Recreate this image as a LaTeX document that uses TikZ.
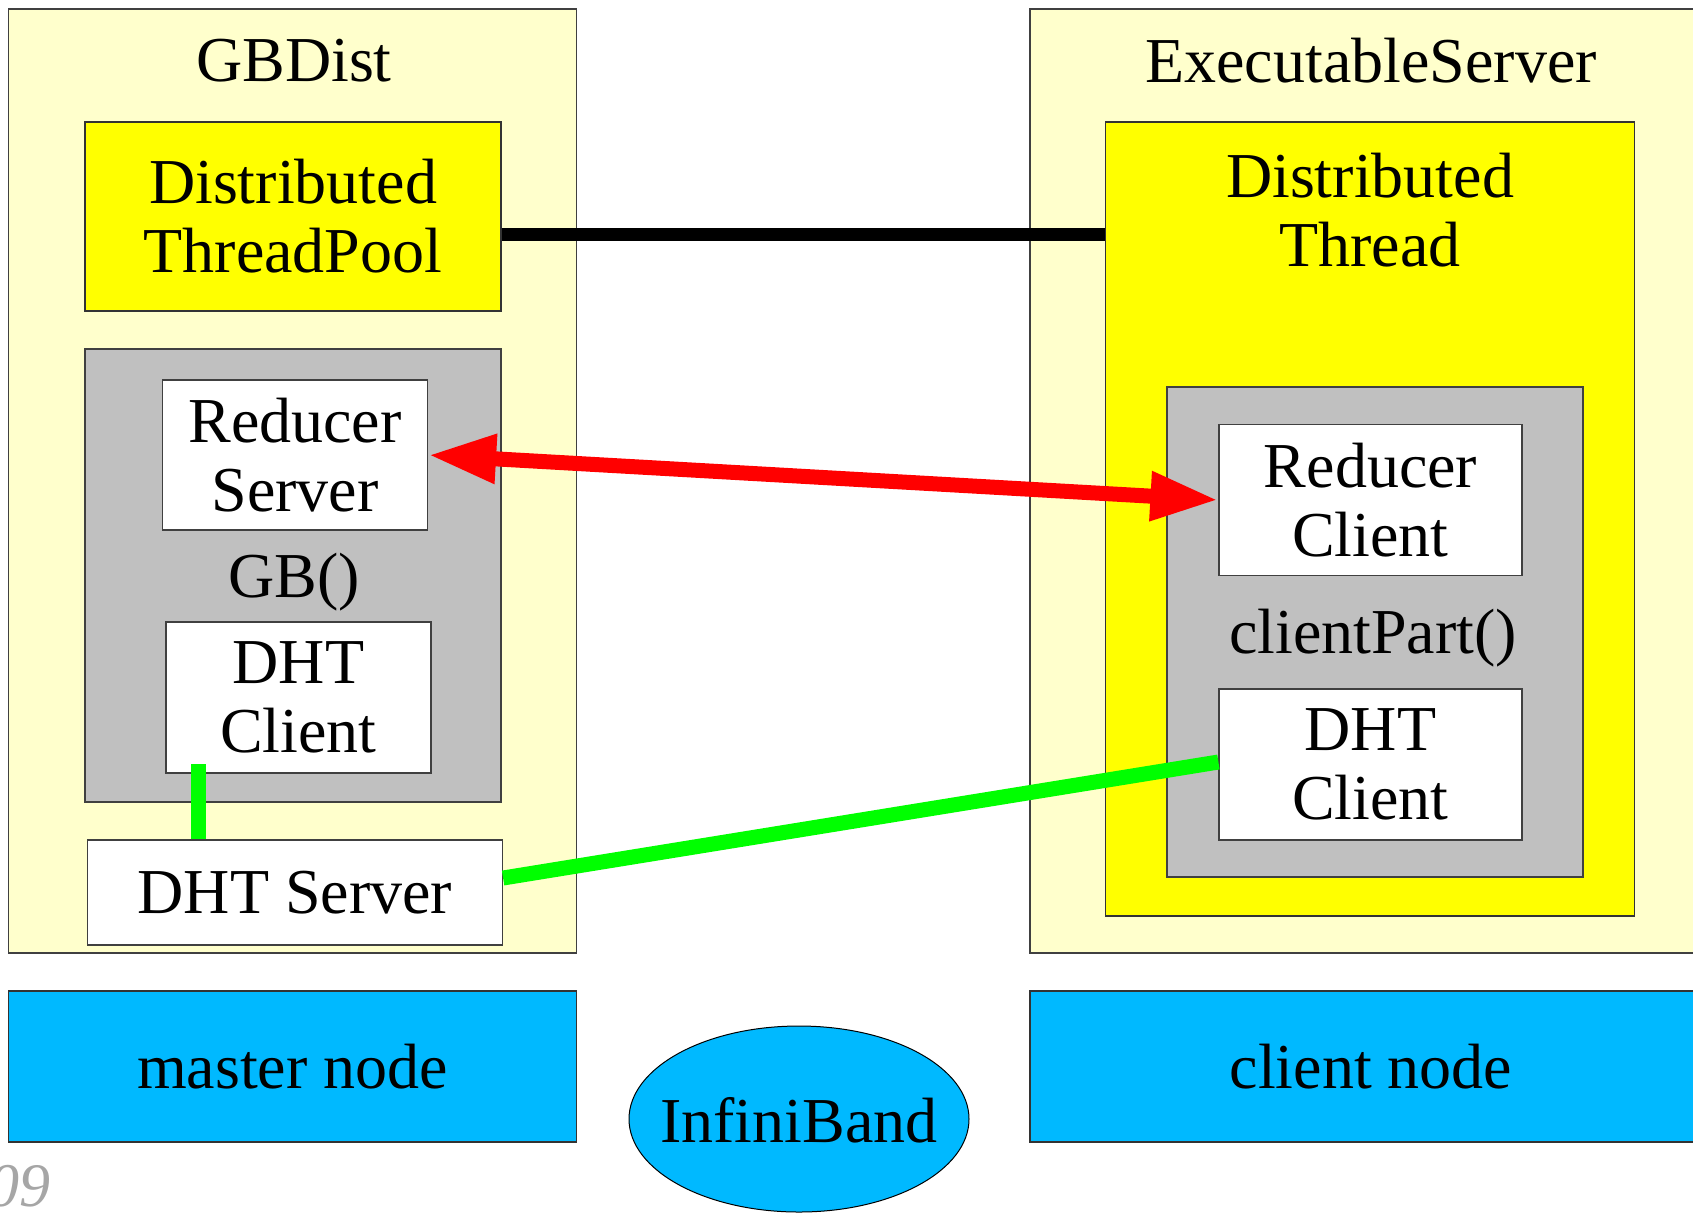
\documentclass[tikz,border=0pt]{standalone}
\usepackage{fontspec}
\setmainfont{Liberation Serif}
\usetikzlibrary{arrows.meta, positioning, shapes.geometric}
\definecolor{paleyellow}{HTML}{FFFFCC}
\definecolor{threadyellow}{HTML}{FFFF00}
\definecolor{funcgrey}{HTML}{C0C0C0}
\definecolor{hostblue}{HTML}{00B9FF}
\newcommand{\diagfont}{\fontsize{64}{69}\selectfont}
\tikzset{
    container/.style={rectangle, draw=black!75, line width=1.2pt, fill=paleyellow, inner sep=0pt},
    threadbox/.style={rectangle, draw=black!80, line width=1.2pt, fill=threadyellow, inner sep=0pt, align=center},
    funcbox/.style={rectangle, draw=black!75, line width=1.2pt, fill=funcgrey, inner sep=0pt},
    part/.style={rectangle, draw=black!75, line width=1.2pt, fill=white, inner sep=0pt, align=center},
    host/.style={rectangle, draw=black!80, line width=1.2pt, fill=hostblue, inner sep=0pt},
    title/.style={inner sep=0pt, align=center},
    link/.style={line width=13pt, black},
    reduce/.style={line width=15pt, red, {Triangle[length=68pt,width=46pt]}-{Triangle[length=68pt,width=46pt]}},
    dht/.style={line width=15pt, green}
}

\begin{document}
\begin{tikzpicture}[x=1pt, y=-1pt, font=\diagfont]

\clip (0,0) rectangle (1693,1213);

% Outer containers
\node (gbdist) [container, minimum width=568pt, minimum height=944pt] at (292.6,481) {};
\node (execsrv) [container, minimum width=682pt, minimum height=944pt] at (1371,481) {};
\node (gbdisttitle) [title] at (294,61) {GBDist};
\node (exectitle) [title] at (1371,61) {ExecutableServer};

% Master side
\node (pool) [threadbox, minimum width=416pt, minimum height=189pt] at (293,216.5) {Distributed\\ThreadPool};
\node (gbfunc) [funcbox, minimum width=416pt, minimum height=453pt] at (293,575.5) {};
\node (redsrv) [part, minimum width=265pt, minimum height=150pt] at (295,455) {Reducer\\Server};
\node (gbname) [title] at (294,582) {GB()};
\node (dhtclmaster) [part, minimum width=265pt, minimum height=151pt] at (298.5,697.5) {DHT\\Client};
\node (dhtsrv) [part, minimum width=415pt, minimum height=105pt] at (295,892.5) {DHT Server};

% Client side
\node (thread) [threadbox, minimum width=529pt, minimum height=794pt] at (1370,519) {};
\node (threadtitle) [title] at (1370,210) {Distributed\\Thread};
\node (clfunc) [funcbox, minimum width=416pt, minimum height=490pt] at (1375,632) {};
\node (redcl) [part, minimum width=303pt, minimum height=151pt] at (1370.5,500) {Reducer\\Client};
\node (clname) [title] at (1373,638) {clientPart()};
\node (dhtclclient) [part, minimum width=303pt, minimum height=151pt] at (1370.5,764.5) {DHT\\Client};

% Hardware
\node (master) [host, minimum width=568pt, minimum height=151pt] at (292.6,1066.5) {master node};
\node (client) [host, minimum width=682pt, minimum height=151pt] at (1371,1066.5) {client node};
\node (ib) [ellipse, draw=black, line width=1pt, fill=hostblue, minimum width=340pt, minimum height=186pt, inner sep=0pt,
    label={[inner sep=0pt, yshift=-1pt]center:InfiniBand}] at (799,1119) {};

% Connections
\draw [link] ([yshift=-17.5pt]pool.east) -- ([yshift=-17.5pt]pool.east -| thread.west);
\draw [reduce] (redsrv.east) -- (redcl.west);
\coordinate (dhttap) at (198.7,764);
\draw [dht] (dhttap) -- (dhttap |- dhtsrv.north);
\draw [dht] ([yshift=14.5pt]dhtsrv.east) -- ([yshift=2.5pt]dhtclclient.west);

% Scribble in the corner
\node (scrawl) [title, text=black!35, font=\fontsize{62}{62}\selectfont\itshape, anchor=base west] at (-12,1206) {09};

\end{tikzpicture}
\end{document}
